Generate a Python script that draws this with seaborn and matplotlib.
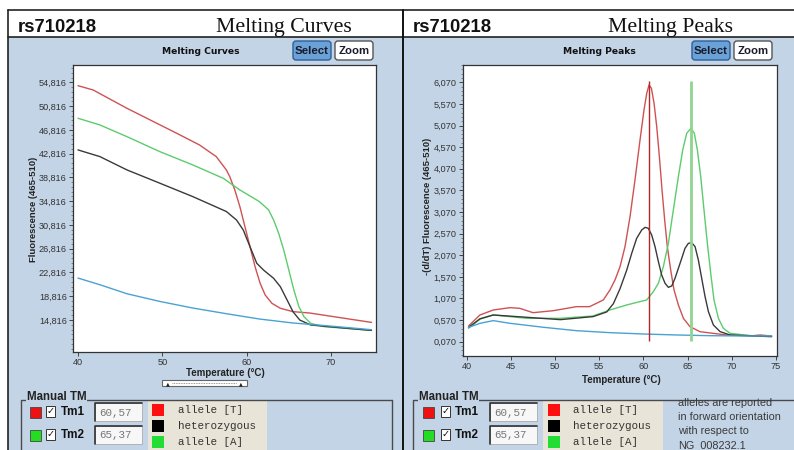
import numpy as np
import pandas as pd
import matplotlib
matplotlib.use("Agg")
import matplotlib.pyplot as plt
from matplotlib.patches import Rectangle, FancyBboxPatch
from matplotlib.ticker import AutoMinorLocator
import seaborn as sns

# ---------------- data ----------------
# Melting curves (fluorescence vs temperature)
curve_T_red = [40.0, 41.8, 45.8, 51.7, 54.4, 56.4, 57.0, 57.6, 58.0, 58.6, 59.2, 59.8, 60.4, 61.0, 61.6, 62.2, 63.0, 64.0, 65.5, 67.5, 71.4, 74.8]
curve_V_red = [54245, 53522, 50446, 46245, 44278, 42312, 41184, 40057, 38934, 36690, 33880, 30514, 27149, 23783, 20990, 19020, 17624, 16783, 16222, 15986, 15145, 14413]

curve_T_green = [40.0, 42.6, 45.8, 49.7, 53.6, 57.2, 59.2, 61.5, 62.6, 63.2, 63.8, 64.4, 65.0, 65.6, 66.2, 66.8, 67.6, 69.2, 74.8]
curve_V_green = [48765, 47639, 45673, 43152, 40917, 38681, 36700, 34748, 33353, 31641, 29397, 26592, 23226, 19860, 17054, 15372, 14250, 13690, 13066]

curve_T_black = [40.0, 42.6, 45.8, 49.7, 53.6, 57.6, 58.8, 59.6, 60.4, 61.2, 62.0, 63.2, 64.0, 64.8, 65.5, 66.3, 67.6, 74.8]
curve_V_black = [43438, 42312, 40077, 37840, 35589, 33068, 31641, 29960, 27149, 24362, 23226, 21829, 20416, 18172, 16205, 14810, 13969, 13066]

curve_T_blue = [40.0, 42.6, 45.8, 49.7, 53.6, 57.6, 61.5, 65.5, 69.4, 74.8]
curve_V_blue = [21874, 20748, 19235, 17941, 16832, 15874, 14983, 14311, 13857, 13185]

# Melting peaks (-dF/dT vs temperature)
peak_T_red = [40.2, 41.5, 43.0, 44.9, 46.0, 47.5, 49.8, 52.4, 53.9, 55.46, 56.21, 56.78, 57.35, 57.91, 58.48, 59.04, 59.61, 60.06, 60.37, 60.63, 60.90, 61.20, 61.50, 61.80, 62.10, 62.40, 62.70, 63.08, 63.46, 63.95, 64.52, 65.27, 66.40, 69.4, 72.4, 73.2, 74.5]
peak_V_red = [433, 688, 803, 857, 842, 741, 787, 880, 880, 1036, 1267, 1498, 1806, 2267, 2962, 3810, 4735, 5429, 5815, 6008, 5931, 5583, 5044, 4350, 3579, 2885, 2267, 1728, 1267, 920, 610, 417, 301, 225, 209, 225, 202]

peak_T_green = [40.2, 41.5, 43.0, 46.8, 50.6, 54.3, 56.2, 58.1, 59.6, 60.37, 61.12, 61.69, 62.25, 62.82, 63.38, 63.95, 64.44, 64.89, 65.38, 65.76, 66.10, 66.48, 66.85, 67.23, 67.61, 67.98, 68.48, 69.04, 69.80, 72.4, 74.5]
peak_V_green = [380, 590, 688, 611, 611, 665, 803, 919, 997, 1036, 1228, 1421, 1806, 2345, 3116, 3887, 4504, 4889, 5006, 4889, 4504, 3887, 3116, 2345, 1652, 1036, 611, 380, 264, 202, 202]

peak_T_black = [40.2, 41.5, 43.0, 46.8, 50.6, 54.3, 55.84, 56.60, 57.35, 58.10, 58.67, 59.23, 59.80, 60.18, 60.55, 60.93, 61.31, 61.69, 62.06, 62.44, 62.82, 63.20, 63.57, 63.95, 64.33, 64.70, 65.08, 65.46, 65.84, 66.21, 66.59, 66.97, 67.35, 67.91, 68.67, 69.80, 74.5]
peak_V_black = [400, 600, 688, 634, 580, 650, 758, 951, 1297, 1721, 2114, 2461, 2653, 2715, 2692, 2538, 2268, 1921, 1613, 1421, 1327, 1359, 1536, 1767, 1998, 2229, 2345, 2360, 2268, 1960, 1536, 1112, 765, 457, 303, 225, 186]

peak_T_blue = [40.2, 41.5, 43.0, 44.9, 48.7, 52.4, 56.2, 60.0, 63.8, 67.5, 71.3, 74.5]
peak_V_blue = [400, 495, 557, 495, 403, 325, 279, 248, 225, 209, 202, 202]

tm_values = [60.57, 65.37]
tm_labels = ["60,57", "65,37"]
tm_line_span = [90, 6090]

curve_yticks = [14816, 18816, 22816, 26816, 30816, 34816, 38816, 42816, 46816, 50816, 54816]
curve_yticklabels = ["14,816", "18,816", "22,816", "26,816", "30,816", "34,816", "38,816", "42,816", "46,816", "50,816", "54,816"]
curve_xticks = [40, 50, 60, 70]
peak_yticks = [70, 570, 1070, 1570, 2070, 2570, 3070, 3570, 4070, 4570, 5070, 5570, 6070]
peak_yticklabels = ["0,070", "0,570", "1,070", "1,570", "2,070", "2,570", "3,070", "3,570", "4,070", "4,570", "5,070", "5,570", "6,070"]
peak_xticks = [40, 45, 50, 55, 60, 65, 70, 75]

def long_df(parts):
    rows = []
    for name, T, V in parts:
        for t, v in zip(T, V):
            rows.append((name, t, v))
    return pd.DataFrame(rows, columns=["sample", "temp", "value"])

curves_df = long_df([("allele [T]", curve_T_red, curve_V_red),
                     ("allele [A]", curve_T_green, curve_V_green),
                     ("heterozygous", curve_T_black, curve_V_black),
                     ("blank", curve_T_blue, curve_V_blue)])
peaks_df = long_df([("allele [T]", peak_T_red, peak_V_red),
                    ("allele [A]", peak_T_green, peak_V_green),
                    ("heterozygous", peak_T_black, peak_V_black),
                    ("blank", peak_T_blue, peak_V_blue)])

palette = {"allele [T]": "#cf5252", "allele [A]": "#5ccc6c",
           "heterozygous": "#3a3a3a", "blank": "#4aa2d2"}

# ---------------- figure ----------------
sns.set_style("ticks")
plt.rcParams["font.family"] = ["Liberation Sans", "DejaVu Sans"]

W, H = 794, 450
fig = plt.figure(figsize=(W / 100, H / 100), dpi=100)
fig.patch.set_facecolor("white")

bg = fig.add_axes([0, 0, 1, 1], zorder=0)
bg.set_xlim(0, W)
bg.set_ylim(H, 0)
bg.axis("off")

PANEL = "#c3d4e6"
bg.add_patch(Rectangle((8, 37), W - 8, H - 37, facecolor=PANEL, edgecolor="none"))
bg.plot([8, W], [10, 10], color="#222222", lw=1.2)
bg.plot([8, W], [37, 37], color="#222222", lw=1.2)
bg.plot([8, 8], [10, H], color="#222222", lw=1.2)
bg.plot([402.5, 402.5], [10, H], color="#111111", lw=1.4)

for x0, title, cx in [(18, "Melting Curves", 284), (413, "Melting Peaks", 671)]:
    bg.text(x0, 32, "rs710218", fontsize=13.3, fontweight="bold", ha="left", va="baseline", color="#111111")
    bg.text(cx, 32, title, fontsize=15.7, family=["Liberation Serif", "DejaVu Serif"], ha="center", va="baseline", color="#111111")

def button(x0, x1, y0, y1, label, fill, edge):
    bg.add_patch(FancyBboxPatch((x0 + 3, y0 + 3), x1 - x0 - 6, y1 - y0 - 6,
                                boxstyle="round,pad=3", facecolor=fill, edgecolor=edge, lw=1.0))
    bg.text((x0 + x1) / 2, (y0 + y1) / 2 + 0.5, label, fontsize=8.2, fontweight="bold",
            ha="center", va="center", color="#1a1a2a")

for cx, title, sx in [(201, "Melting Curves", 293), (599, "Melting Peaks", 692)]:
    bg.text(cx, 52, title, fontsize=6.6, fontweight="bold", family=["DejaVu Sans"],
            ha="center", va="center", color="#111111")
    button(sx, sx + 38, 41, 60, "Select", "#6aa2d8", "#2f5f96")
    button(sx + 42, sx + 80, 41, 60, "Zoom", "#ffffff", "#555555")

bg.text(33, 209, "Fluorescence (465-510)", rotation=90, fontsize=6.8, fontweight="bold",
        ha="center", va="center", color="#222222")
bg.text(428, 206, "-(d/dT) Fluorescence (465-510)", rotation=90, fontsize=6.8, fontweight="bold",
        ha="center", va="center", color="#222222")
bg.text(225, 373, "Temperature (°C)", fontsize=7, fontweight="bold", ha="center", va="center", color="#222222")
bg.text(621, 380, "Temperature (°C)", fontsize=7, fontweight="bold", ha="center", va="center", color="#222222")

bg.add_patch(Rectangle((162, 380), 85, 6, facecolor="white", edgecolor="#666666", lw=0.8))
bg.plot([172, 237], [383, 383], color="#777777", lw=0.6, ls=(0, (1, 1)))
bg.text(168, 383.5, "▲", fontsize=3.5, ha="center", va="center", color="#222222", family=["DejaVu Sans"])
bg.text(241, 383.5, "▲", fontsize=3.5, ha="center", va="center", color="#222222", family=["DejaVu Sans"])

def manual_group(gx0, gx1, sq_x, cb_x, tm_x, entry_x, leg_x0, leg_x1, leg_sq_x, leg_txt_x):
    bg.plot([gx0, gx0, gx1 if gx1 < W else W + 5], [H + 5, 400, 400], color="#4a4a4a", lw=1.0)
    if gx1 < W:
        bg.plot([gx1, gx1], [400, H + 5], color="#4a4a4a", lw=1.0)
    bg.text(gx0 + 6, 397.5, "Manual TM", fontsize=8.3, fontweight="bold", ha="left", va="center",
            color="#222222", bbox=dict(facecolor=PANEL, edgecolor="none", pad=0.5))
    for yc, col, lab, val in [(412, "#ee1111", "Tm1", tm_labels[0]), (435, "#22dd22", "Tm2", tm_labels[1])]:
        bg.add_patch(Rectangle((sq_x, yc - 5.5), 11, 11, facecolor=col, edgecolor="#444444", lw=0.6))
        bg.add_patch(Rectangle((cb_x, yc - 6), 9, 11, facecolor="white", edgecolor="#333333", lw=0.7))
        bg.text(cb_x + 4.8, yc - 1, "✓", fontsize=7, fontweight="bold", ha="center", va="center",
                color="#111111", family=["DejaVu Sans"])
        bg.text(tm_x, yc, lab, fontsize=8.5, fontweight="bold", ha="left", va="center", color="#111111")
        bg.add_patch(Rectangle((entry_x, yc - 9), 47, 18, facecolor="#f7f7f7", edgecolor="#aaaaaa", lw=0.6))
        bg.plot([entry_x, entry_x, entry_x + 47], [yc + 9, yc - 9, yc - 9], color="#333333", lw=1.2)
        bg.text(entry_x + 4, yc + 0.5, val, fontsize=7.8, family=["Liberation Mono"], ha="left", va="center",
                color="#777777")
    bg.add_patch(Rectangle((leg_x0, 401), leg_x1 - leg_x0, 52, facecolor="#e8e5d8", edgecolor="none"))
    for yc, col, lab in [(410, "#ff1010", "allele [T]"), (426, "#000000", "heterozygous"), (442, "#22dd33", "allele [A]")]:
        bg.add_patch(Rectangle((leg_sq_x, yc - 6), 12, 12, facecolor=col, edgecolor="none"))
        bg.text(leg_txt_x, yc, lab, fontsize=7.8, family=["Liberation Mono"], ha="left", va="center",
                color="#333333")

manual_group(21, 392, 30, 46, 61, 95, 148, 267, 152, 178)
manual_group(413, W + 10, 423, 441, 455, 490, 543, 663, 548, 573)

for i, line in enumerate(["alleles are reported", "in forward orientation", "with respect to", "NG_008232.1"]):
    bg.text(678, 403 + i * 14, line, fontsize=7.8, ha="left", va="center", color="#3a3a3a")

# ---------------- plot axes ----------------
def px_axes(x0, x1, y0, y1):
    return fig.add_axes([x0 / W, 1 - y1 / H, (x1 - x0) / W, (y1 - y0) / H], zorder=2)

def style_axes(ax):
    ax.set_facecolor("white")
    for s in ax.spines.values():
        s.set_color("#333333")
        s.set_linewidth(0.9)
        s.set_visible(True)
    ax.tick_params(axis="both", which="major", direction="out", length=3, width=0.7,
                   color="#444444", labelsize=6.6, labelcolor="#333333", pad=1.5)
    ax.tick_params(axis="y", which="minor", direction="out", length=1.5, width=0.5, color="#666666")
    ax.set_xlabel("")
    ax.set_ylabel("")

ax1 = px_axes(73, 376, 65, 352)
sns.lineplot(data=curves_df, x="temp", y="value", hue="sample", palette=palette,
             estimator=None, legend=False, linewidth=1.0, ax=ax1)
ax1.set_xlim(39.41, 75.34)
ax1.set_ylim(9430, 57727)
ax1.set_xticks(curve_xticks)
ax1.set_yticks(curve_yticks)
ax1.set_yticklabels(curve_yticklabels)
ax1.yaxis.set_minor_locator(AutoMinorLocator(5))
style_axes(ax1)

ax2 = px_axes(463, 777, 65, 356)
sns.lineplot(data=peaks_df, x="temp", y="value", hue="sample", palette=palette,
             estimator=None, legend=False, linewidth=1.0, ax=ax2)
ax2.vlines(tm_values[0], tm_line_span[0], tm_line_span[1], color="#b02828", lw=1.0, zorder=5)
ax2.vlines(tm_values[1], tm_line_span[0], tm_line_span[1], color="#8fd48f", lw=2.0, zorder=5)
ax2.set_xlim(39.58, 75.11)
ax2.set_ylim(-261, 6470)
ax2.set_xticks(peak_xticks)
ax2.set_yticks(peak_yticks)
ax2.set_yticklabels(peak_yticklabels)
ax2.yaxis.set_minor_locator(AutoMinorLocator(5))
style_axes(ax2)

fig.savefig("out.png", dpi=100, facecolor="white")
